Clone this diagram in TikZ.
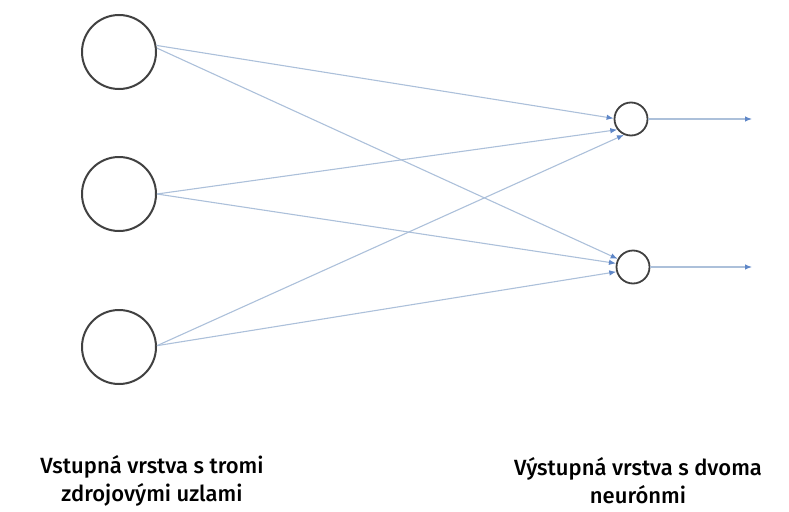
\documentclass[tikz,border=0pt]{standalone}
\usepackage{fontspec}
\setmainfont{Fira Sans Medium}[BoldFont=Fira Sans SemiBold]
\usetikzlibrary{arrows.meta}
\definecolor{edge}{RGB}{172,192,218}
\definecolor{tip}{RGB}{95,135,200}
\definecolor{ring}{RGB}{65,65,65}
\begin{document}
\begin{tikzpicture}[x=1pt,y=-1pt,
  inp/.style={circle,draw=ring,line width=2pt,minimum size=74pt,inner sep=0pt},
  outp/.style={circle,draw=ring,line width=1.8pt,minimum size=33pt,inner sep=0pt},
  conn/.style={draw=edge,line width=1.1pt,-{Latex[length=7pt,width=5.5pt,color=tip]}},
  lbl/.style={align=center,font=\fontsize{22}{28}\selectfont,text=black}]
\useasboundingbox (0,0) rectangle (789,511);
\node[inp] (i1) at (119,52) {};
\node[inp] (i2) at (119,194) {};
\node[inp] (i3) at (119,347) {};
\node[outp] (o1) at (631,119) {};
\node[outp] (o2) at (633,267) {};
\coordinate (e1) at (752,119);
\coordinate (e2) at (752,267);
\draw[conn] (i1.10) -- (o1.178);
\draw[conn] (i1.6) -- (o2.152);
\draw[conn] (i2.0) -- (o1.218);
\draw[conn] (i2.0) -- (o2.168);
\draw[conn] (i3.2) -- (o1.246);
\draw[conn] (i3.2) -- (o2.196);
\draw[conn] (o1.east) -- (e1);
\draw[conn] (o2.east) -- (e2);
\node[lbl] (l1) at (152,481) {Vstupná vrstva s tromi\\zdrojovými uzlami};
\node[lbl] (l2) at (638,481) {Výstupná vrstva s dvoma\\neurónmi};
\end{tikzpicture}
\end{document}
